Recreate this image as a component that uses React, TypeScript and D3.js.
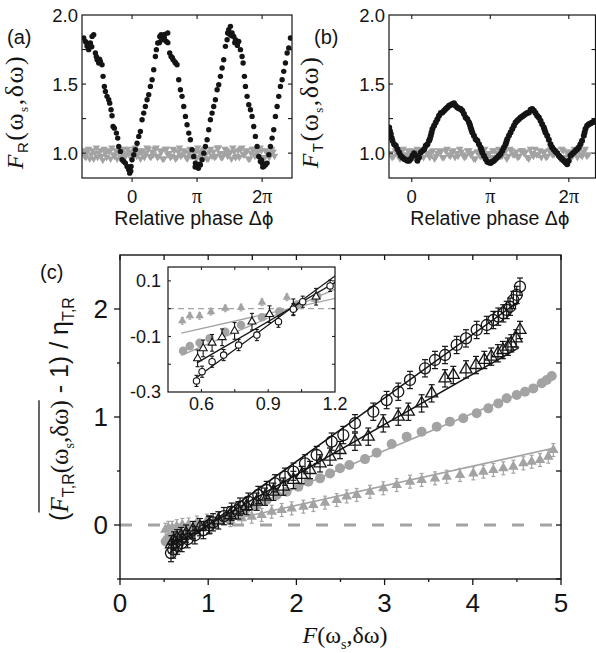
import React, { useLayoutEffect, useRef, useState } from "react";
import * as d3 from "d3";

// ---------- Panel (a): F_R vs relative phase (phase in units of π) ----------
const blackA: number[][] = [
  [-0.744,1.833],[-0.718,1.809],[-0.70,1.80],[-0.692,1.773],[-0.667,1.749],[-0.641,1.797],[-0.62,1.77],[-0.615,1.845],[-0.590,1.857],
  [-0.564,1.725],[-0.55,1.70],[-0.538,1.676],[-0.513,1.652],[-0.50,1.68],[-0.487,1.664],[-0.462,1.640],[-0.446,1.556],[-0.426,1.483],
  [-0.410,1.447],[-0.385,1.411],[-0.359,1.386],[-0.344,1.362],[-0.323,1.314],[-0.308,1.271],[-0.292,1.193],[-0.272,1.181],
  [-0.241,1.145],[-0.221,1.109],[-0.205,1.048],[-0.179,1.012],[-0.154,0.952],[-0.128,0.940],[-0.103,0.928],[-0.077,0.903],
  [-0.06,0.90],[-0.051,0.879],[-0.036,0.855],[-0.02,0.87],[-0.015,0.903],[0,0.952],[0.026,0.988],[0.051,1.024],[0.077,1.072],
  [0.103,1.121],[0.128,1.157],[0.154,1.242],[0.179,1.290],[0.205,1.338],[0.231,1.386],[0.256,1.423],[0.282,1.483],[0.308,1.531],
  [0.333,1.604],[0.359,1.700],[0.374,1.749],[0.395,1.797],[0.42,1.80],[0.426,1.845],[0.446,1.857],[0.45,1.83],[0.477,1.821],
  [0.497,1.833],[0.50,1.86],[0.528,1.809],[0.549,1.870],[0.55,1.80],[0.579,1.725],[0.600,1.700],[0.62,1.69],[0.631,1.676],
  [0.66,1.66],[0.667,1.652],[0.692,1.640],[0.718,1.531],[0.744,1.459],[0.769,1.411],[0.795,1.338],[0.821,1.266],[0.846,1.205],
  [0.872,1.145],[0.897,1.097],[0.923,1.024],[0.949,0.976],[0.97,0.90],[0.974,0.928],[1.000,0.903],[1.02,0.89],[1.026,0.915],
  [1.04,0.92],[1.051,0.915],[1.077,0.952],[1.103,1.000],[1.128,1.048],[1.154,1.097],[1.179,1.169],[1.205,1.242],[1.231,1.290],
  [1.256,1.338],[1.282,1.386],[1.308,1.459],[1.333,1.495],[1.359,1.556],[1.385,1.616],[1.410,1.676],[1.436,1.773],[1.462,1.821],
  [1.47,1.87],[1.487,1.894],[1.50,1.86],[1.513,1.918],[1.53,1.85],[1.538,1.870],[1.564,1.845],[1.58,1.80],[1.590,1.821],
  [1.615,1.797],[1.62,1.78],[1.641,1.809],[1.667,1.749],[1.692,1.700],[1.708,1.652],[1.728,1.556],[1.744,1.483],[1.769,1.411],
  [1.795,1.350],[1.821,1.314],[1.846,1.266],[1.872,1.193],[1.897,1.121],[1.923,1.048],[1.949,0.976],[1.974,0.940],[1.99,0.95],
  [2.000,0.928],[2.01,0.90],[2.026,0.903],[2.04,0.92],[2.051,0.915],[2.077,0.928],[2.103,0.988],[2.128,1.048],[2.154,1.109],
  [2.179,1.169],[2.205,1.266],[2.231,1.338],[2.256,1.411],[2.282,1.483],[2.308,1.531],[2.333,1.592],[2.359,1.652],[2.385,1.725],
  [2.410,1.761],[2.436,1.833],
];
const grayPhaseA = [
  -0.75,-0.73,-0.71,-0.69,-0.67,-0.65,-0.63,-0.61,-0.59,-0.57,-0.55,-0.53,-0.51,-0.49,-0.47,-0.45,-0.43,-0.41,-0.39,-0.37,
  -0.35,-0.33,-0.31,-0.29,-0.27,-0.25,-0.23,-0.21,-0.19,-0.17,-0.15,-0.13,-0.11,-0.09,-0.07,-0.05,-0.03,-0.01,0.01,0.03,
  0.05,0.07,0.09,0.11,0.13,0.15,0.17,0.19,0.21,0.23,0.25,0.27,0.29,0.31,0.33,0.35,0.37,0.39,0.41,0.43,0.45,0.47,0.49,0.51,
  0.53,0.55,0.57,0.59,0.61,0.63,0.65,0.67,0.69,0.71,0.73,0.75,0.77,0.79,0.81,0.83,0.85,0.87,0.89,0.91,0.93,0.95,0.97,0.99,
  1.01,1.03,1.05,1.07,1.09,1.11,1.13,1.15,1.17,1.19,1.21,1.23,1.25,1.27,1.29,1.31,1.33,1.35,1.37,1.39,1.41,1.43,1.45,1.47,
  1.49,1.51,1.53,1.55,1.57,1.59,1.61,1.63,1.65,1.67,1.69,1.71,1.73,1.75,1.77,1.79,1.81,1.83,1.85,1.87,1.89,1.91,1.93,1.95,
  1.97,1.99,2.01,2.03,2.05,2.07,2.09,2.11,2.13,2.15,2.17,2.19,2.21,2.23,2.25,2.27,2.29,2.31,2.33,2.35,2.37,2.39,2.41,2.43,2.45,
];
const grayFA = [
  1.02,0.98,0.97,1.01,1.03,0.96,0.99,1.02,0.96,1.00,1.04,0.97,1.00,1.02,0.98,0.95,1.03,1.00,0.97,1.02,
  1.01,0.96,1.04,0.99,0.98,1.02,0.96,1.01,1.02,0.97,1.00,1.03,0.97,0.99,1.03,1.00,1.01,0.96,0.98,1.03,
  1.04,0.98,0.99,1.02,0.96,1.00,1.02,0.97,1.00,1.04,1.03,0.98,0.97,1.01,0.99,1.03,1.04,0.97,0.98,1.02,
  1.01,0.96,0.96,1.03,1.03,0.99,1.00,0.97,0.98,1.03,1.02,0.96,0.97,1.01,1.04,0.98,0.99,1.02,1.01,0.97,
  0.96,1.00,1.03,0.98,0.98,1.02,1.00,0.96,1.04,1.01,0.97,0.99,1.02,1.03,0.99,0.96,0.96,1.01,1.03,0.98,
  1.01,0.97,0.98,1.04,1.04,1.00,0.97,0.97,1.00,1.03,1.02,0.98,0.99,1.01,0.96,1.04,1.01,0.97,0.98,1.02,
  0.97,1.03,1.04,0.99,0.99,1.01,1.02,0.96,0.96,1.00,1.03,1.03,0.98,0.99,1.01,0.97,1.04,1.02,0.97,0.96,
  1.02,1.01,1.00,0.97,0.99,1.03,1.01,0.98,
];

// ---------- Panel (b): F_T vs relative phase ----------
const blackB: number[][] = [
  [-0.288,1.186],[-0.278,1.160],[-0.267,1.138],[-0.256,1.110],[-0.246,1.089],[-0.225,1.065],[-0.203,1.053],[-0.182,1.029],
  [-0.161,1.005],[-0.140,0.981],[-0.119,0.969],[-0.097,0.957],[-0.076,0.952],[-0.055,0.944],[-0.034,0.944],[-0.013,0.957],
  [0.008,0.981],[0.030,1.000],[0.051,0.981],[0.072,0.944],[0.093,0.969],[0.114,1.005],[0.136,1.017],[0.157,1.029],[0.178,1.053],
  [0.199,1.065],[0.220,1.089],[0.231,1.105],[0.242,1.126],[0.252,1.150],[0.263,1.174],[0.284,1.198],[0.305,1.222],[0.326,1.246],
  [0.347,1.271],[0.369,1.290],[0.390,1.295],[0.411,1.307],[0.432,1.319],[0.453,1.331],[0.475,1.343],[0.496,1.348],[0.517,1.355],
  [0.538,1.362],[0.559,1.343],[0.581,1.331],[0.602,1.324],[0.623,1.319],[0.644,1.307],[0.665,1.283],[0.686,1.258],[0.708,1.246],
  [0.729,1.222],[0.740,1.205],[0.750,1.186],[0.760,1.168],[0.771,1.150],[0.792,1.126],[0.814,1.101],[0.835,1.089],[0.856,1.065],
  [0.877,1.041],[0.888,1.022],[0.898,1.005],[0.919,0.981],[0.941,0.957],[0.962,0.937],[0.983,0.932],[1.004,0.928],[1.025,0.937],
  [1.047,0.944],[1.068,0.957],[1.089,0.969],[1.110,0.981],[1.131,0.993],[1.153,1.017],[1.174,1.041],[1.195,1.065],[1.206,1.083],
  [1.216,1.101],[1.237,1.126],[1.258,1.150],[1.280,1.174],[1.301,1.198],[1.322,1.222],[1.343,1.234],[1.364,1.246],[1.386,1.258],
  [1.407,1.266],[1.428,1.275],[1.449,1.283],[1.470,1.290],[1.492,1.295],[1.513,1.314],[1.534,1.319],[1.555,1.307],[1.576,1.290],
  [1.597,1.271],[1.619,1.258],[1.640,1.234],[1.661,1.210],[1.682,1.186],[1.692,1.168],[1.703,1.150],[1.725,1.126],[1.746,1.097],
  [1.767,1.065],[1.788,1.041],[1.809,1.024],[1.831,1.010],[1.852,1.000],[1.873,0.981],[1.894,0.969],[1.915,0.957],[1.936,0.944],
  [1.958,0.932],[1.979,0.920],[2.000,0.944],[2.021,0.981],[2.042,0.993],[2.064,1.005],[2.085,1.017],[2.106,1.029],[2.127,1.041],
  [2.148,1.065],[2.169,1.089],[2.191,1.126],[2.201,1.150],[2.212,1.174],[2.233,1.198],[2.254,1.210],[2.275,1.215],[2.297,1.222],
  [2.318,1.227],[2.339,1.234],
];
const grayPhaseB = [
  -0.27,-0.25,-0.23,-0.21,-0.19,-0.17,-0.15,-0.13,-0.11,-0.09,-0.07,-0.05,-0.03,-0.01,0.01,0.03,0.05,0.07,0.09,0.11,0.13,
  0.15,0.17,0.19,0.21,0.23,0.25,0.27,0.29,0.31,0.33,0.35,0.37,0.39,0.41,0.43,0.45,0.47,0.49,0.51,0.53,0.55,0.57,0.59,0.61,
  0.63,0.65,0.67,0.69,0.71,0.73,0.75,0.77,0.79,0.81,0.83,0.85,0.87,0.89,0.91,0.93,0.95,0.97,0.99,1.01,1.03,1.05,1.07,1.09,
  1.11,1.13,1.15,1.17,1.19,1.21,1.23,1.25,1.27,1.29,1.31,1.33,1.35,1.37,1.39,1.41,1.43,1.45,1.47,1.49,1.51,1.53,1.55,1.57,
  1.59,1.61,1.63,1.65,1.67,1.69,1.71,1.73,1.75,1.77,1.79,1.81,1.83,1.85,1.87,1.89,1.91,1.93,1.95,1.97,1.99,2.01,2.03,2.05,
  2.07,2.09,2.11,2.13,2.15,2.17,2.19,2.21,2.23,2.25,2.27,2.29,2.31,2.33,
];
const grayFB = [
  1.00,0.97,0.98,1.02,1.01,0.98,0.96,1.01,1.03,0.98,0.99,1.02,0.97,1.00,1.02,0.97,1.00,1.03,0.98,0.99,1.01,
  0.97,1.03,1.00,0.99,0.97,1.01,1.02,0.96,0.98,1.00,1.02,1.01,0.97,0.97,1.02,1.03,0.99,0.98,1.01,1.02,0.97,1.00,0.98,
  1.03,1.01,0.99,0.97,0.98,1.02,1.02,0.99,1.00,0.96,0.96,1.01,1.01,0.98,0.98,1.02,1.03,0.98,0.99,1.00,0.97,1.02,1.02,
  0.97,1.00,1.03,0.98,0.98,1.01,1.01,0.96,0.98,1.03,1.02,0.99,0.99,1.01,0.97,0.98,1.02,1.02,1.00,1.01,0.97,0.96,1.03,
  1.00,0.98,1.03,0.99,0.99,1.02,0.97,1.01,1.01,0.97,0.98,1.02,1.03,0.99,0.99,1.02,1.00,0.98,0.96,1.03,1.02,0.97,1.01,
  1.00,0.99,1.01,0.98,1.03,1.00,0.97,1.02,0.99,0.98,1.01,1.03,0.98,0.99,
];
const phaseTicks = [0, 1, 2];
const phaseTickLabels = ["0", "π", "2π"];
const fTicks = [1.0, 1.5, 2.0];
const fMinorTicks = [1.0, 1.25, 1.5, 1.75];

// ---------- Panel (c) ----------
const openCircles: number[][] = [
  [0.578,-0.260],[0.603,-0.227],[0.648,-0.191],[0.700,-0.167],[0.767,-0.131],[0.849,-0.095],[0.946,-0.047],[1.013,-0.002],
  [1.055,0.025],[1.178,0.082],[1.266,0.123],[1.361,0.170],[1.455,0.216],[1.568,0.278],[1.663,0.324],[1.757,0.386],[1.871,0.447],
  [1.966,0.494],[2.098,0.571],[2.230,0.648],[2.400,0.772],[2.532,0.833],[2.664,0.942],[2.872,1.049],[3.023,1.157],[3.155,1.234],
  [3.288,1.343],[3.458,1.451],[3.571,1.528],[3.685,1.574],[3.817,1.667],[3.923,1.728],[4.044,1.806],[4.158,1.852],[4.233,1.898],
  [4.289,1.929],[4.346,1.960],[4.384,1.991],[4.422,2.021],[4.460,2.083],[4.498,2.130],[4.535,2.207],
];
const openTriangles: number[][] = [
  [0.583,-0.179],[0.608,-0.143],[0.648,-0.123],[0.693,-0.103],[0.749,-0.080],[0.827,-0.047],[0.906,-0.020],[1.013,0.005],
  [1.115,0.043],[1.250,0.090],[1.342,0.135],[1.436,0.175],[1.550,0.216],[1.644,0.262],[1.739,0.308],[1.852,0.355],[1.966,0.417],
  [2.060,0.463],[2.154,0.509],[2.268,0.571],[2.381,0.633],[2.494,0.694],[2.664,0.771],[2.815,0.818],[2.985,0.941],[3.155,1.003],
  [3.269,1.049],[3.420,1.126],[3.534,1.219],[3.685,1.358],[3.779,1.389],[3.923,1.441],[4.036,1.481],[4.131,1.528],[4.209,1.559],
  [4.285,1.590],[4.341,1.620],[4.398,1.651],[4.436,1.682],[4.492,1.728],[4.535,1.806],
];
const grayCircles: number[][] = [
  [0.518,-0.152],[0.548,-0.135],[0.592,-0.123],[0.637,-0.107],[0.707,-0.083],[0.778,-0.059],[0.872,-0.031],[0.950,-0.010],
  [1.030,0.015],[1.120,0.045],[1.200,0.070],[1.300,0.100],[1.420,0.140],[1.550,0.185],[1.663,0.231],[1.777,0.278],[1.890,0.308],
  [2.022,0.355],[2.135,0.401],[2.268,0.432],[2.381,0.478],[2.494,0.525],[2.600,0.555],[2.778,0.610],[2.910,0.670],[3.080,0.750],
  [3.250,0.818],[3.420,0.864],[3.591,0.910],[3.741,0.957],[3.892,0.988],[4.044,1.034],[4.176,1.080],[4.289,1.126],[4.384,1.173],
  [4.498,1.204],[4.592,1.234],[4.686,1.265],[4.781,1.312],[4.838,1.343],[4.895,1.380],
];
const grayTriangles: number[][] = [
  [0.514,-0.044],[0.548,-0.026],[0.592,-0.026],[0.643,-0.011],[0.707,0.001],[0.778,0.004],[0.872,0.023],[0.984,0.041],
  [1.110,0.034],[1.250,0.045],[1.380,0.062],[1.493,0.077],[1.606,0.093],[1.720,0.123],[1.833,0.139],[1.946,0.154],[2.079,0.170],
  [2.192,0.185],[2.324,0.207],[2.457,0.231],[2.570,0.265],[2.683,0.278],[2.834,0.308],[2.985,0.340],[3.137,0.370],[3.288,0.401],
  [3.420,0.417],[3.571,0.432],[3.704,0.447],[3.855,0.463],[4.006,0.478],[4.120,0.494],[4.233,0.509],[4.346,0.525],[4.460,0.540],
  [4.573,0.571],[4.667,0.586],[4.762,0.602],[4.856,0.633],[4.913,0.694],
];
const fitOpenCircles = [[0.57, -0.253], [4.52, 2.07]];
const fitOpenTriangles = [[0.58, -0.195], [4.52, 1.64]];
const fitGrayCircles = [[0.51, -0.168], [4.9, 1.345]];
const fitGrayTriangles = [[0.51, -0.088], [4.91, 0.71]];
const errOpenMain = 0.08, errGrayTriMain = 0.06, errGrayCircMain = 0.02;
const errOpenCircInset = 0.02, errOpenTriInset = 0.03, errGrayInset = 0.012;
const mainXTicks = [0, 1, 2, 3, 4, 5];
const mainXMinor = [0.5, 1.5, 2.5, 3.5, 4.5];
const mainYTicks = [0, 1, 2];
const mainYMinor = [-0.5, 0.5, 1.5];
const insetXTicks = [0.6, 0.9, 1.2];
const insetXAll = [0.6, 0.75, 0.9, 1.05];
const insetYTicks = [0.1, -0.1, -0.3];
const insetYAll = [0.1, 0, -0.1, -0.2];

const SANS = "'Liberation Sans', Arial, Helvetica, sans-serif";
const SERIF = "'Liberation Serif', 'Times New Roman', serif";
const INK = "#141414";
const GRAY = "#a3a3a3";

function tri(cx: number, cy: number, w: number, up = true) {
  const h = w * 0.866;
  if (up) return `M${cx},${cy - (2 * h) / 3}L${cx + w / 2},${cy + h / 3}L${cx - w / 2},${cy + h / 3}Z`;
  return `M${cx},${cy + (2 * h) / 3}L${cx + w / 2},${cy - h / 3}L${cx - w / 2},${cy - h / 3}Z`;
}

function ErrBar({ x, y1, y2, cap, color, sw }: any) {
  return (
    <g stroke={color} strokeWidth={sw}>
      <line x1={x} x2={x} y1={y1} y2={y2} />
      <line x1={x - cap / 2} x2={x + cap / 2} y1={y1} y2={y1} />
      <line x1={x - cap / 2} x2={x + cap / 2} y1={y2} y2={y2} />
    </g>
  );
}

function MainYLabel() {
  const ref = useRef<SVGTextElement>(null);
  const [ol, setOl] = useState<number[] | null>(null);
  useLayoutEffect(() => {
    const t = ref.current;
    if (!t) return;
    try {
      const a = t.getStartPositionOfChar(1).x;
      const b = t.getEndPositionOfChar(11).x;
      setOl([a, b]);
    } catch (e) {}
  }, []);
  return (
    <g transform="translate(68,409) rotate(-90)">
      <text ref={ref} textAnchor="middle" fontSize={25} fontFamily={SERIF} fill={INK}>
        <tspan fontFamily={SANS}>(</tspan>
        <tspan fontStyle="italic">F</tspan>
        <tspan fontFamily={SANS} fontSize={16} dy={6}>T,R</tspan>
        <tspan dy={-6}>(ω</tspan>
        <tspan fontSize={14} dy={6}>s</tspan>
        <tspan dy={-6}>,δω)</tspan>
        <tspan fontFamily={SANS}> - 1) / η</tspan>
        <tspan fontFamily={SANS} fontSize={16} dy={6}>T,R</tspan>
      </text>
      {ol && <line x1={ol[0]} x2={ol[1]} y1={-29} y2={-29} stroke={INK} strokeWidth={1.3} />}
    </g>
  );
}

function PhasePanel({ xs, ys, black, grayX, grayY, label, sub, tickLabelX, yLabelX, xLabelCX, dotR }: any) {
  const [x0, x1] = xs.range();
  const [y0, y1] = ys.range(); // y0 bottom, y1 top
  const gray = d3.zip(grayX, grayY) as number[][];
  const clipId = "clip" + label;
  return (
    <g>
      <defs>
        <clipPath id={clipId}>
          <rect x={x0} y={y1} width={x1 - x0} height={y0 - y1} />
        </clipPath>
      </defs>
      <g clipPath={`url(#${clipId})`}>
        {gray.map((d, i) => (
          <path key={"g" + i} d={tri(xs(d[0]), ys(d[1]), 7.5, false)} fill={GRAY} />
        ))}
        {black.map((d: number[], i: number) => (
          <circle key={"b" + i} cx={xs(d[0])} cy={ys(d[1])} r={dotR} fill={INK} />
        ))}
      </g>
      <rect x={x0} y={y1} width={x1 - x0} height={y0 - y1} fill="none" stroke={INK} strokeWidth={1.2} />
      {phaseTicks.map((t) => (
        <g key={"xt" + t} stroke={INK} strokeWidth={1.1}>
          <line x1={xs(t)} x2={xs(t)} y1={y0} y2={y0 + 4} />
          <line x1={xs(t)} x2={xs(t)} y1={y1} y2={y1 + 4} />
        </g>
      ))}
      {fMinorTicks.map((t) => (
        <g key={"yt" + t} stroke={INK} strokeWidth={1.1}>
          <line x1={x0} x2={x0 + 4} y1={ys(t)} y2={ys(t)} />
          <line x1={x1} x2={x1 - 4} y1={ys(t)} y2={ys(t)} />
        </g>
      ))}
      {fTicks.map((t) => (
        <text key={"yl" + t} x={tickLabelX} y={ys(t)} dy="0.36em" textAnchor="end" fontSize={18.5} fontFamily={SANS} fill={INK}>
          {t.toFixed(1)}
        </text>
      ))}
      {phaseTicks.map((t, i) => (
        <text key={"xl" + t} x={xs(t)} y={203} textAnchor="middle" fontSize={18.5} fontFamily={SANS} fill={INK}>
          {phaseTickLabels[i].startsWith("2") ? (
            <>
              <tspan>2</tspan>
              <tspan fontFamily={SERIF} fontSize={20}>π</tspan>
            </>
          ) : phaseTickLabels[i] === "π" ? (
            <tspan fontFamily={SERIF} fontSize={20}>π</tspan>
          ) : (
            phaseTickLabels[i]
          )}
        </text>
      ))}
      <text x={xLabelCX} y={225} textAnchor="middle" fontSize={19.5} fontFamily={SANS} fill={INK}>
        Relative phase Δ<tspan fontFamily="'DejaVu Sans', sans-serif" fontSize={18}>ϕ</tspan>
      </text>
      <g transform={`translate(${yLabelX},112) rotate(-90)`}>
        <text textAnchor="middle" fontSize={24} fontFamily={SERIF} fill={INK} letterSpacing={1.5}>
          <tspan fontStyle="italic">F</tspan>
          <tspan fontFamily={SANS} fontSize={15} dy={5}>{sub}</tspan>
          <tspan dy={-5} fontSize={26}>(ω</tspan>
          <tspan fontSize={13} dy={5}>s</tspan>
          <tspan dy={-5} fontSize={26}>,δω)</tspan>
        </text>
      </g>
    </g>
  );
}

export default function App() {
  const xA = d3.scaleLinear().domain([-0.77, 2.46]).range([82, 292]);
  const yP = d3.scaleLinear().domain([0.82, 2.0]).range([178, 15]);
  const xB = d3.scaleLinear().domain([-0.29, 2.34]).range([389, 595.5]);
  const xM = d3.scaleLinear().domain([0, 5]).range([120, 561]);
  const yM = d3.scaleLinear().domain([-0.5, 2.5]).range([579, 255]);
  const xI = d3.scaleLinear().domain([0.45, 1.2]).range([168, 335]);
  const yI = d3.scaleLinear().domain([-0.3, 0.15]).range([392, 267]);
  const lineM = d3.line<number[]>().x((d) => xM(d[0])).y((d) => yM(d[1]));
  const lineI = d3.line<number[]>().x((d) => xI(d[0])).y((d) => yI(d[1]));
  const inInset = (d: number[]) => d[0] >= 0.46 && d[0] <= 1.19;

  return (
    <svg width={596} height={653} style={{ position: "absolute", left: 0, top: 0, background: "#fff" }}>
      <rect width={596} height={653} fill="#fff" />
      {/* panel labels */}
      <text x={7} y={44} fontSize={20} fontFamily={SANS} fill={INK}>(a)</text>
      <text x={314} y={44} fontSize={20} fontFamily={SANS} fill={INK}>(b)</text>
      <text x={40} y={279} fontSize={20} fontFamily={SANS} fill={INK}>(c)</text>

      <PhasePanel xs={xA} ys={yP} black={blackA} grayX={grayPhaseA} grayY={grayFA} label="a" sub="R"
        tickLabelX={78} yLabelX={23} xLabelCX={194} dotR={2.7} />
      <PhasePanel xs={xB} ys={yP} black={blackB} grayX={grayPhaseB} grayY={grayFB} label="b" sub="T"
        tickLabelX={385} yLabelX={318} xLabelCX={490} dotR={3} />

      {/* ---------- main panel (c) ---------- */}
      <defs>
        <clipPath id="clipMain">
          <rect x={120} y={255} width={441} height={324} />
        </clipPath>
        <clipPath id="clipInset">
          <rect x={168} y={267} width={167} height={125} />
        </clipPath>
      </defs>
      <g clipPath="url(#clipMain)">
        <line x1={120} x2={561} y1={yM(0)} y2={yM(0)} stroke={GRAY} strokeWidth={3.2} strokeDasharray="12,16" />
        <path d={lineM(fitGrayTriangles) || ""} stroke={GRAY} strokeWidth={1.6} fill="none" />
        <path d={lineM(fitGrayCircles) || ""} stroke={GRAY} strokeWidth={1.6} fill="none" />
        {grayTriangles.map((d, i) => (
          <g key={"gt" + i}>
            <ErrBar x={xM(d[0])} y1={yM(d[1] - errGrayTriMain)} y2={yM(d[1] + errGrayTriMain)} cap={4} color={GRAY} sw={1.2} />
            <path d={tri(xM(d[0]), yM(d[1]), 10.5, true)} fill={GRAY} />
          </g>
        ))}
        {grayCircles.map((d, i) => (
          <g key={"gc" + i}>
            <ErrBar x={xM(d[0])} y1={yM(d[1] - errGrayCircMain)} y2={yM(d[1] + errGrayCircMain)} cap={4} color={GRAY} sw={1.2} />
            <circle cx={xM(d[0])} cy={yM(d[1])} r={5} fill={GRAY} />
          </g>
        ))}
        <path d={lineM(fitOpenTriangles) || ""} stroke={INK} strokeWidth={1.5} fill="none" />
        <path d={lineM(fitOpenCircles) || ""} stroke={INK} strokeWidth={1.5} fill="none" />
        {openTriangles.map((d, i) => (
          <g key={"ot" + i}>
            <ErrBar x={xM(d[0])} y1={yM(d[1] - errOpenMain)} y2={yM(d[1] + errOpenMain)} cap={6} color={INK} sw={1.2} />
            <path d={tri(xM(d[0]), yM(d[1]), 12, true)} fill="none" stroke={INK} strokeWidth={1.3} />
          </g>
        ))}
        {openCircles.map((d, i) => (
          <g key={"oc" + i}>
            <ErrBar x={xM(d[0])} y1={yM(d[1] - errOpenMain)} y2={yM(d[1] + errOpenMain)} cap={6} color={INK} sw={1.2} />
            <circle cx={xM(d[0])} cy={yM(d[1])} r={5.5} fill="none" stroke={INK} strokeWidth={1.3} />
          </g>
        ))}
      </g>
      <rect x={120} y={255} width={441} height={324} fill="none" stroke={INK} strokeWidth={1.4} />
      {mainXTicks.map((t) => (
        <g key={"mx" + t} stroke={INK} strokeWidth={1.3}>
          <line x1={xM(t)} x2={xM(t)} y1={579} y2={585} />
          <line x1={xM(t)} x2={xM(t)} y1={255} y2={260} />
        </g>
      ))}
      {mainXMinor.map((t) => (
        <g key={"mxm" + t} stroke={INK} strokeWidth={1.3}>
          <line x1={xM(t)} x2={xM(t)} y1={579} y2={582} />
          <line x1={xM(t)} x2={xM(t)} y1={255} y2={260} />
        </g>
      ))}
      {mainYTicks.map((t) => (
        <g key={"my" + t} stroke={INK} strokeWidth={1.3}>
          <line x1={114} x2={120} y1={yM(t)} y2={yM(t)} />
          <line x1={556} x2={561} y1={yM(t)} y2={yM(t)} />
        </g>
      ))}
      {mainYMinor.map((t) => (
        <g key={"mym" + t} stroke={INK} strokeWidth={1.3}>
          <line x1={117} x2={120} y1={yM(t)} y2={yM(t)} />
          <line x1={556} x2={561} y1={yM(t)} y2={yM(t)} />
        </g>
      ))}
      {mainXTicks.map((t) => (
        <text key={"mxl" + t} x={xM(t)} y={612} textAnchor="middle" fontSize={26} fontFamily={SANS} fill={INK}>{t}</text>
      ))}
      {mainYTicks.map((t) => (
        <text key={"myl" + t} x={108} y={yM(t)} dy="0.36em" textAnchor="end" fontSize={26} fontFamily={SANS} fill={INK}>{t}</text>
      ))}
      <text x={345} y={643} textAnchor="middle" fontSize={24} fontFamily={SERIF} fill={INK}>
        <tspan fontStyle="italic">F</tspan>
        <tspan>(ω</tspan>
        <tspan fontSize={14} dy={6}>s</tspan>
        <tspan dy={-6}>,δω)</tspan>
      </text>
      <MainYLabel />

      {/* ---------- inset ---------- */}
      <rect x={168} y={267} width={167} height={125} fill="#fff" />
      <g clipPath="url(#clipInset)">
        <line x1={168} x2={335} y1={yI(0)} y2={yI(0)} stroke={GRAY} strokeWidth={1.3} strokeDasharray="6,4" />
        <path d={lineI(fitGrayTriangles) || ""} stroke={GRAY} strokeWidth={1.3} fill="none" />
        <path d={lineI(fitGrayCircles) || ""} stroke={GRAY} strokeWidth={1.3} fill="none" />
        {grayTriangles.filter(inInset).map((d, i) => (
          <g key={"igt" + i}>
            <ErrBar x={xI(d[0])} y1={yI(d[1] - errGrayInset)} y2={yI(d[1] + errGrayInset)} cap={3} color={GRAY} sw={1} />
            <path d={tri(xI(d[0]), yI(d[1]), 8.5, true)} fill={GRAY} />
          </g>
        ))}
        {grayCircles.filter(inInset).map((d, i) => (
          <g key={"igc" + i}>
            <ErrBar x={xI(d[0])} y1={yI(d[1] - errGrayInset)} y2={yI(d[1] + errGrayInset)} cap={3} color={GRAY} sw={1} />
            <circle cx={xI(d[0])} cy={yI(d[1])} r={4.3} fill={GRAY} />
          </g>
        ))}
        <path d={lineI(fitOpenTriangles) || ""} stroke={INK} strokeWidth={1.3} fill="none" />
        <path d={lineI(fitOpenCircles) || ""} stroke={INK} strokeWidth={1.3} fill="none" />
        {openTriangles.filter(inInset).map((d, i) => (
          <g key={"iot" + i}>
            <ErrBar x={xI(d[0])} y1={yI(d[1] - errOpenTriInset)} y2={yI(d[1] + errOpenTriInset)} cap={4} color={INK} sw={1.1} />
            <path d={tri(xI(d[0]), yI(d[1]), 8, true)} fill="#fff" stroke={INK} strokeWidth={1.1} />
          </g>
        ))}
        {openCircles.filter(inInset).map((d, i) => (
          <g key={"ioc" + i}>
            <ErrBar x={xI(d[0])} y1={yI(d[1] - errOpenCircInset)} y2={yI(d[1] + errOpenCircInset)} cap={4} color={INK} sw={1.1} />
            <circle cx={xI(d[0])} cy={yI(d[1])} r={3.2} fill="#fff" stroke={INK} strokeWidth={1.1} />
          </g>
        ))}
      </g>
      <rect x={168} y={267} width={167} height={125} fill="none" stroke={INK} strokeWidth={1.2} />
      {insetXAll.map((t) => (
        <g key={"ix" + t} stroke={INK} strokeWidth={1}>
          <line x1={xI(t)} x2={xI(t)} y1={392} y2={389} />
          <line x1={xI(t)} x2={xI(t)} y1={267} y2={270} />
        </g>
      ))}
      {insetYAll.map((t) => (
        <g key={"iy" + t} stroke={INK} strokeWidth={1}>
          <line x1={168} x2={171} y1={yI(t)} y2={yI(t)} />
          <line x1={335} x2={332} y1={yI(t)} y2={yI(t)} />
        </g>
      ))}
      {insetXTicks.map((t) => (
        <text key={"ixl" + t} x={xI(t)} y={410} textAnchor="middle" fontSize={18} fontFamily={SANS} fill={INK}>{t.toFixed(1)}</text>
      ))}
      {insetYTicks.map((t) => (
        <text key={"iyl" + t} x={161} y={yI(t)} dy="0.36em" textAnchor="end" fontSize={18} fontFamily={SANS} fill={INK}>{t.toFixed(1)}</text>
      ))}
    </svg>
  );
}
